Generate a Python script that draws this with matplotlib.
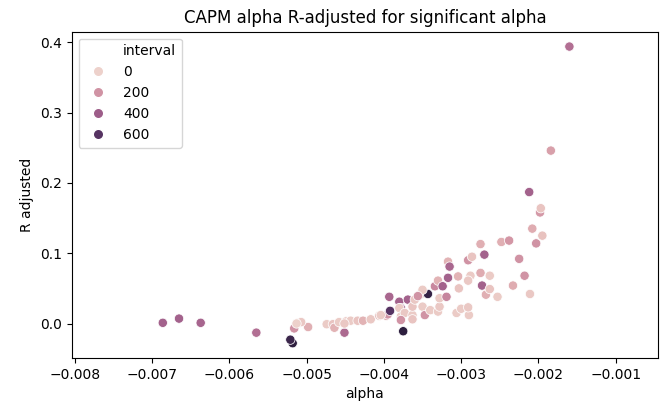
import matplotlib
matplotlib.use("Agg")
import matplotlib.pyplot as plt
from matplotlib.lines import Line2D
from matplotlib.colors import Normalize
import pandas as pd
import seaborn as sns

# -----------------------------
# data
# -----------------------------
alpha = [
    -0.00686, -0.00665, -0.00637, -0.00565, -0.00516, -0.00518, -0.00521, -0.00510,
    -0.00498, -0.00507, -0.00474, -0.00466, -0.00464, -0.00458, -0.00451, -0.00449,
    -0.00443, -0.00434, -0.00427, -0.00417, -0.00406, -0.00397, -0.00395, -0.00404,
    -0.00393, -0.00392, -0.00380, -0.00378, -0.00380, -0.00378, -0.00373, -0.00375,
    -0.00369, -0.00363, -0.00363, -0.00360, -0.00353, -0.00350, -0.00347, -0.00343,
    -0.00340, -0.00334, -0.00330, -0.00330, -0.00328, -0.00328, -0.00324, -0.00319,
    -0.00317, -0.00317, -0.00315, -0.00306, -0.00304, -0.00303, -0.00300, -0.00290,
    -0.00291, -0.00291, -0.00286, -0.00288, -0.00291, -0.00275, -0.00275, -0.00273,
    -0.00270, -0.00268, -0.00263, -0.00263, -0.00253, -0.00248, -0.00238, -0.00233,
    -0.00225, -0.00218, -0.00211, -0.00212, -0.00203, -0.00208, -0.00198, -0.00197,
    -0.00195, -0.00184, -0.00160, -0.00350, -0.00363, -0.00378, -0.00451, -0.00513,
    -0.00356,
]
r_adjusted = [
    0.001, 0.007, 0.001, -0.013, -0.007, -0.028, -0.023, 0.001,
    -0.005, 0.002, -0.001, -0.001, -0.006, 0.002, -0.013, 0.003,
    0.004, 0.004, 0.004, 0.006, 0.011, 0.011, 0.013, 0.012,
    0.038, 0.018, 0.031, 0.022, 0.022, 0.010, 0.015, -0.011,
    0.034, 0.012, 0.024, 0.034, 0.041, 0.024, 0.012, 0.042,
    0.019, 0.053, 0.061, 0.017, 0.024, 0.036, 0.053, 0.038,
    0.065, 0.088, 0.081, 0.015, 0.067, 0.050, 0.021, 0.012,
    0.023, 0.090, 0.095, 0.068, 0.061, 0.113, 0.072, 0.054,
    0.098, 0.041, 0.068, 0.049, 0.038, 0.116, 0.118, 0.054,
    0.092, 0.068, 0.042, 0.187, 0.114, 0.135, 0.158, 0.164,
    0.125, 0.246, 0.394, 0.048, 0.006, 0.005, 0.000, 0.000,
    0.039,
]
interval = [
    380, 380, 370, 330, 200, 720, 680, 20,
    110, 30, 20, 40, 100, 20, 350, 30,
    20, 40, 100, 30, 60, 110, 200, 20,
    360, 600, 380, 400, 20, 20, 30, 720,
    380, 20, 40, 30, 60, 20, 200, 700,
    20, 240, 100, 20, 30, 20, 380, 250,
    380, 100, 360, 20, 100, 40, 20, 20,
    30, 200, 40, 20, 30, 110, 120, 380,
    380, 110, 20, 40, 20, 110, 190, 120,
    200, 200, 30, 380, 200, 120, 180, 40,
    50, 160, 330, 20, 40, 200, 30, 0,
    200,
]
legend_levels = [0, 200, 400, 600]

df = pd.DataFrame({"alpha": alpha, "R adjusted": r_adjusted, "interval": interval})

# -----------------------------
# plot
# -----------------------------
fig = plt.figure(figsize=(6.69, 4.12), dpi=100)
ax = fig.add_axes([0.107, 0.131, 0.877, 0.792])

sns.scatterplot(data=df, x="alpha", y="R adjusted", hue="interval", s=45,
                legend=False, ax=ax)

ax.set_xlim(-0.00804, -0.00045)
ax.set_title("CAPM alpha R-adjusted for significant alpha")

# legend in the old seaborn style: title sits in the label column
cmap = sns.color_palette("ch:", as_cmap=True)
norm = Normalize(min(interval), max(interval))
handles = [Line2D([], [], linestyle="none")]
labels = ["interval"]
for v in legend_levels:
    handles.append(Line2D([], [], linestyle="none", marker="o", markersize=7.5,
                          markerfacecolor=cmap(norm(v)), markeredgecolor="white"))
    labels.append(str(v))
ax.legend(handles, labels, loc="upper left")

fig.savefig("out.png", dpi=100)
